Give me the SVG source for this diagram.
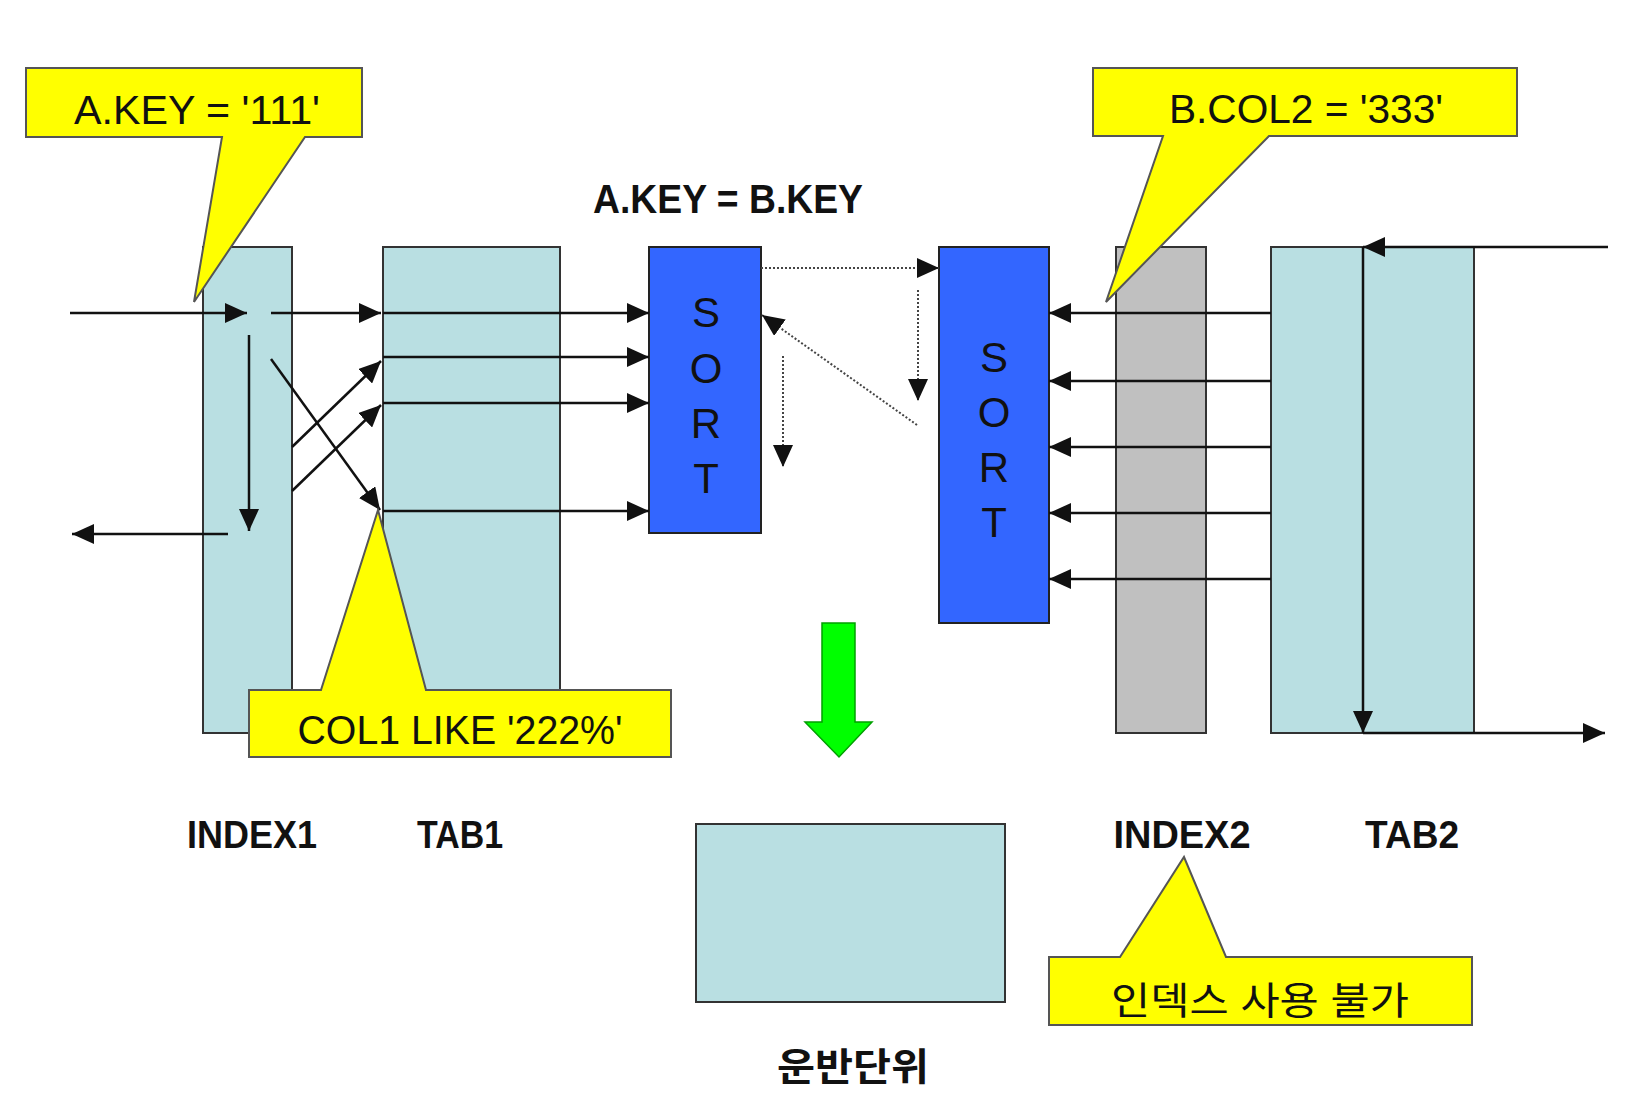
<svg xmlns="http://www.w3.org/2000/svg" width="1648" height="1110" viewBox="0 0 1648 1110">
<style>
.box{fill:#B9DFE2;stroke:#333;stroke-width:2}
.gray{fill:#C0C0C0;stroke:#333;stroke-width:2}
.sort{fill:#3366FF;stroke:#222;stroke-width:2}
.call{fill:#FFFF00;stroke:#555;stroke-width:2;stroke-linejoin:miter}
.t{font-family:"Liberation Sans",Arial,sans-serif;fill:#111;text-anchor:middle}
.b{font-family:"Liberation Sans",Arial,sans-serif;fill:#111;text-anchor:middle;font-weight:bold}
.k{font-family:"Liberation Sans","Noto Sans CJK KR",sans-serif;fill:#111;text-anchor:middle}
.s{font-family:"Liberation Sans",Arial,sans-serif;fill:#111;text-anchor:middle;font-size:42px}
.c{fill:none;stroke:#111;stroke-width:2.5}
.d{fill:none;stroke:#444;stroke-width:2;stroke-dasharray:2 2}
</style>
<defs>
<marker id="ah" markerUnits="userSpaceOnUse" markerWidth="22" markerHeight="20" refX="22" refY="10" orient="auto">
<path d="M0,0 L22,10 L0,20 z" fill="#111"/>
</marker>
</defs>
<rect width="1648" height="1110" fill="#fff"/>

<g id="index1"><rect class="box" x="203" y="247" width="89" height="486"/></g>
<g id="tab1"><rect class="box" x="383" y="247" width="177" height="486"/></g>
<g id="sort1"><rect class="sort" x="649" y="247" width="112" height="286"/>
<text class="s" x="706" y="327">S</text><text class="s" x="706" y="383">O</text><text class="s" x="706" y="438">R</text><text class="s" x="706" y="493">T</text></g>
<g id="sort2"><rect class="sort" x="939" y="247" width="110" height="376"/>
<text class="s" x="994" y="372">S</text><text class="s" x="994" y="427">O</text><text class="s" x="994" y="482">R</text><text class="s" x="994" y="537">T</text></g>
<g id="index2"><rect class="gray" x="1116" y="247" width="90" height="486"/></g>
<g id="tab2"><rect class="box" x="1271" y="247" width="203" height="486"/></g>
<g id="result"><rect class="box" x="696" y="824" width="309" height="178"/></g>
<g id="green-arrow"><polygon points="822,623 855,623 855,722 872,722 839,757 805,722 822,722" fill="#00FF00" stroke="#00A000" stroke-width="1.5"/></g>

<g id="callout-akey"><path class="call" d="M26,68 H362 V137 H305 L194,302 L222,137 H26 Z"/>
<text class="t" x="197" y="124" font-size="40" textLength="246" lengthAdjust="spacingAndGlyphs">A.KEY = '111'</text></g>
<g id="callout-bcol2"><path class="call" d="M1093,68 H1517 V136 H1269 L1106,302 L1163,136 H1093 Z"/>
<text class="t" x="1306" y="123" font-size="40" textLength="274" lengthAdjust="spacingAndGlyphs">B.COL2 = '333'</text></g>

<g id="connectors">
<line class="c" x1="70" y1="313" x2="247" y2="313" marker-end="url(#ah)"/>
<line class="c" x1="271" y1="313" x2="381" y2="313" marker-end="url(#ah)"/>
<line class="c" x1="383" y1="313" x2="649" y2="313" marker-end="url(#ah)"/>
<line class="c" x1="383" y1="357" x2="649" y2="357" marker-end="url(#ah)"/>
<line class="c" x1="383" y1="403" x2="649" y2="403" marker-end="url(#ah)"/>
<line class="c" x1="383" y1="511" x2="649" y2="511" marker-end="url(#ah)"/>
<line class="c" x1="249" y1="335" x2="249" y2="531" marker-end="url(#ah)"/>
<line class="c" x1="228" y1="534" x2="72" y2="534" marker-end="url(#ah)"/>
<line class="c" x1="271" y1="359" x2="380" y2="510" marker-end="url(#ah)"/>
<line class="c" x1="292" y1="447" x2="381" y2="361" marker-end="url(#ah)"/>
<line class="c" x1="292" y1="491" x2="381" y2="405" marker-end="url(#ah)"/>
<line class="c" x1="1271" y1="313" x2="1049" y2="313" marker-end="url(#ah)"/>
<line class="c" x1="1271" y1="381" x2="1049" y2="381" marker-end="url(#ah)"/>
<line class="c" x1="1271" y1="447" x2="1049" y2="447" marker-end="url(#ah)"/>
<line class="c" x1="1271" y1="513" x2="1049" y2="513" marker-end="url(#ah)"/>
<line class="c" x1="1271" y1="579" x2="1049" y2="579" marker-end="url(#ah)"/>
<line class="c" x1="1608" y1="247" x2="1363" y2="247" marker-end="url(#ah)"/>
<line class="c" x1="1363" y1="247" x2="1363" y2="733" marker-end="url(#ah)"/>
<line class="c" x1="1363" y1="733" x2="1605" y2="733" marker-end="url(#ah)"/>
<line class="d" x1="761" y1="268" x2="939" y2="268" marker-end="url(#ah)"/>
<line class="d" x1="918" y1="290" x2="918" y2="401" marker-end="url(#ah)"/>
<line class="d" x1="783" y1="356" x2="783" y2="467" marker-end="url(#ah)"/>
<line class="d" x1="917" y1="425" x2="762" y2="315" marker-end="url(#ah)"/>
</g>

<g id="callout-col1"><path class="call" d="M249,690 H321 L378,510 L426,690 H671 V757 H249 Z"/>
<text class="t" x="460" y="744" font-size="40" textLength="325" lengthAdjust="spacingAndGlyphs">COL1 LIKE '222%'</text></g>
<g id="callout-noindex"><path class="call" d="M1049,957 H1120 L1184,857 L1226,957 H1472 V1025 H1049 Z"/>
<text class="k" x="1260" y="1014" font-size="38" textLength="298" lengthAdjust="spacingAndGlyphs">인덱스 사용 불가</text></g>

<g id="labels">
<text class="b" x="728" y="213" font-size="40" textLength="270" lengthAdjust="spacingAndGlyphs">A.KEY = B.KEY</text>
<text class="b" x="252" y="848" font-size="39" textLength="130" lengthAdjust="spacingAndGlyphs">INDEX1</text>
<text class="b" x="460" y="848" font-size="39" textLength="86" lengthAdjust="spacingAndGlyphs">TAB1</text>
<text class="b" x="1182" y="848" font-size="39" textLength="137" lengthAdjust="spacingAndGlyphs">INDEX2</text>
<text class="b" x="1412" y="848" font-size="39" textLength="94" lengthAdjust="spacingAndGlyphs">TAB2</text>
<text class="k" x="853" y="1080" font-size="38" font-weight="bold" textLength="152" lengthAdjust="spacingAndGlyphs">운반단위</text>
</g>
</svg>
